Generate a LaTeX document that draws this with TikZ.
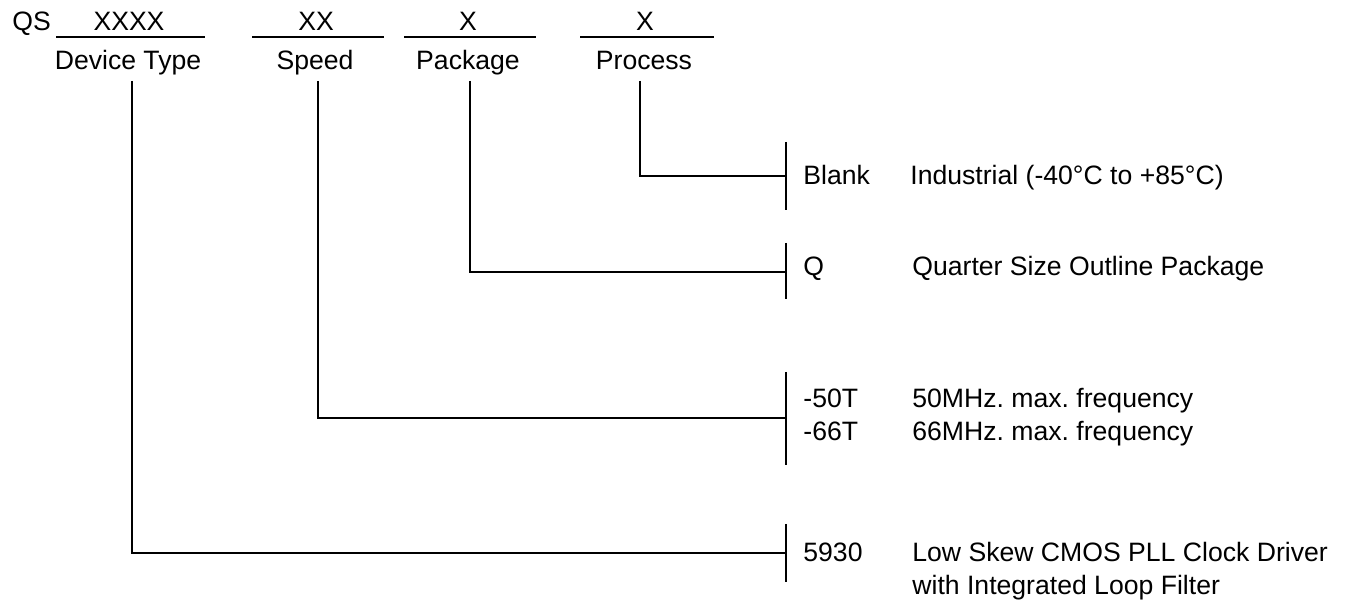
\documentclass[tikz,border=0pt]{standalone}
\usepackage{fontspec}
\setmainfont{Liberation Sans}
\usetikzlibrary{positioning}
\frenchspacing

\begin{document}
\begin{tikzpicture}[x=0.5pt, y=-0.5pt,
    field/.style={anchor=base, inner sep=0pt, font=\fontsize{13.3}{16}\selectfont},
    code/.style={anchor=base west, inner sep=0pt, font=\fontsize{13.3}{16}\selectfont},
    uline/.style={line width=0.9pt},
    lead/.style={line width=0.7pt},
    bracket/.style={line width=0.7pt}]
\useasboundingbox (0,0) rectangle (1367,603);

\node[code] (qs) at (12,31) {QS};
\node[field] (devx) at (129,31) {XXXX};
\node[field] (spdx) at (316,31) {XX};
\node[field] (pkgx) at (468,31) {X};
\node[field] (prcx) at (645,31) {X};

\draw[uline] (56,37) -- (205,37);
\draw[uline] (252,37) -- (384,37);
\draw[uline] (404,37) -- (536,37);
\draw[uline] (580,37) -- (714,37);

\node[field] (devlbl) at (128,70) {Device Type};
\node[field] (spdlbl) at (315,70) {Speed};
\node[field] (pkglbl) at (468,70) {Package};
\node[field] (prclbl) at (644,70) {Process};

\coordinate (devtop) at (132,81);
\coordinate (spdtop) at (318,81);
\coordinate (pkgtop) at (470,81);
\coordinate (prctop) at (640,81);

\coordinate (prcbr) at (786,176);
\coordinate (pkgbr) at (786,272);
\coordinate (spdbr) at (786,418);
\coordinate (devbr) at (786,553);

\draw[bracket] (786,142) -- (prcbr) -- (786,210);
\draw[bracket] (786,243) -- (pkgbr) -- (786,299);
\draw[bracket] (786,372) -- (spdbr) -- (786,465);
\draw[bracket] (786,524) -- (devbr) -- (786,582);

\draw[lead] (prctop) |- (prcbr);
\draw[lead] (pkgtop) |- (pkgbr);
\draw[lead] (spdtop) |- (spdbr);
\draw[lead] (devtop) |- (devbr);

\node[code] (blank) at (803,185) {Blank};
\node[code] (blankd) at (910,185) {Industrial (-40°C to +85°C)};
\node[code] (q) at (803,276) {Q};
\node[code] (qd) at (912,276) {Quarter Size Outline Package};
\node[code] (s50) at (803,408) {-50T};
\node[code] (s50d) at (912,408) {50MHz. max. frequency};
\node[code] (s66) at (803,441) {-66T};
\node[code] (s66d) at (912,441) {66MHz. max. frequency};
\node[code] (dev) at (803,562) {5930};
\node[code] (devd1) at (912,562) {Low Skew CMOS PLL Clock Driver};
\node[code] (devd2) at (912,595) {with Integrated Loop Filter};
\end{tikzpicture}
\end{document}
